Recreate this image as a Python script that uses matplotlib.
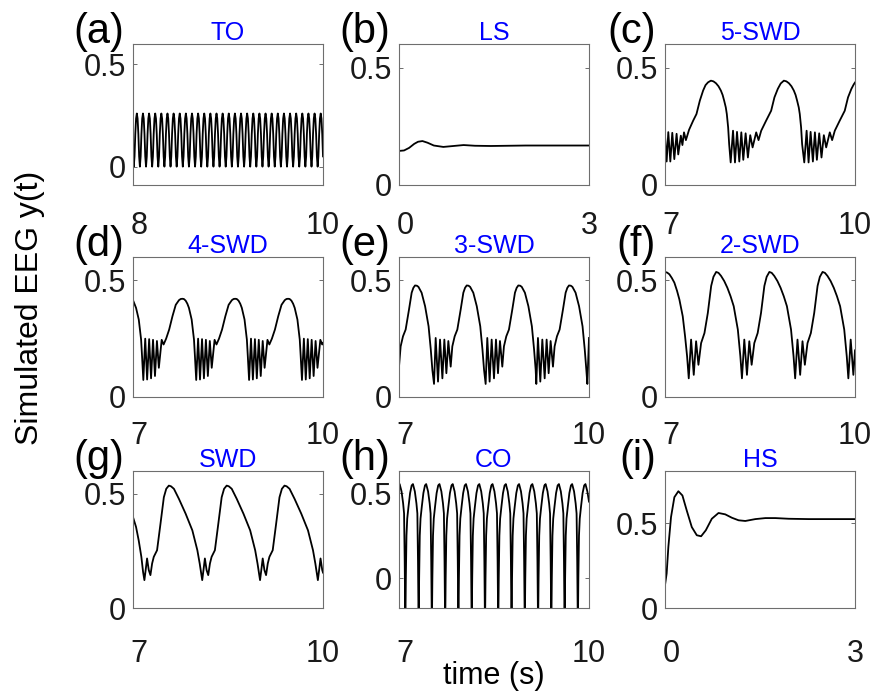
import numpy as np
import matplotlib
matplotlib.use("Agg")
import matplotlib.pyplot as plt
from matplotlib.transforms import ScaledTranslation

plt.rcParams['font.family'] = ['Liberation Sans', 'DejaVu Sans']

W, H = 877, 696

# ---------------- data ----------------
# (a) TO : uniformly sampled from t=8 to t=10
a_t_range = (8.0, 10.0)
a_vals = [0.12,
    0.0, 0.05, 0.16, 0.235, 0.26, 0.235, 0.16, 0.05,
    0.0, 0.05, 0.16, 0.235, 0.26, 0.235, 0.16, 0.05,
    0.0, 0.05, 0.16, 0.235, 0.26, 0.235, 0.16, 0.05,
    0.0, 0.05, 0.16, 0.235, 0.26, 0.235, 0.16, 0.05,
    0.0, 0.05, 0.16, 0.235, 0.26, 0.235, 0.16, 0.05,
    0.0, 0.05, 0.16, 0.235, 0.26, 0.235, 0.16, 0.05,
    0.0, 0.05, 0.16, 0.235, 0.26, 0.235, 0.16, 0.05,
    0.0, 0.05, 0.16, 0.235, 0.26, 0.235, 0.16, 0.05,
    0.0, 0.05, 0.16, 0.235, 0.26, 0.235, 0.16, 0.05,
    0.0, 0.05, 0.16, 0.235, 0.26, 0.235, 0.16, 0.05,
    0.0, 0.05, 0.16, 0.235, 0.26, 0.235, 0.16, 0.05,
    0.0, 0.05, 0.16, 0.235, 0.26, 0.235, 0.16, 0.05,
    0.0, 0.05, 0.16, 0.235, 0.26, 0.235, 0.16, 0.05,
    0.0, 0.05, 0.16, 0.235, 0.26, 0.235, 0.16, 0.05,
    0.0, 0.05, 0.16, 0.235, 0.26, 0.235, 0.16, 0.05,
    0.0, 0.05, 0.16, 0.235, 0.26, 0.235, 0.16, 0.05,
    0.0, 0.05, 0.16, 0.235, 0.26, 0.235, 0.16, 0.05,
    0.0, 0.05, 0.16, 0.235, 0.26, 0.235, 0.16, 0.05,
    0.0, 0.05, 0.16, 0.235, 0.26, 0.235, 0.16, 0.05,
    0.0, 0.05, 0.16, 0.235, 0.26, 0.235, 0.16, 0.05,
    0.0, 0.05, 0.16, 0.235, 0.26, 0.235, 0.16, 0.05,
    0.0, 0.05, 0.16, 0.235, 0.26, 0.235, 0.16, 0.05,
    0.0, 0.05, 0.16, 0.235, 0.26, 0.235, 0.16, 0.05,
    0.0, 0.05, 0.16, 0.235, 0.26, 0.235, 0.16, 0.05,
    0.0, 0.05, 0.16, 0.235, 0.26, 0.235, 0.16, 0.05,
    0.0, 0.05, 0.16, 0.235, 0.26, 0.235, 0.16, 0.05,
    0.0, 0.05, 0.16, 0.235, 0.26, 0.235, 0.16, 0.05,
    0.0, 0.05, 0.16, 0.235, 0.26, 0.235, 0.16, 0.05,
    0.0, 0.05, 0.16, 0.235, 0.26, 0.235, 0.16, 0.05,
    0.0, 0.05, 0.16, 0.235, 0.26, 0.235, 0.16, 0.05,
    0.0, 0.05, 0.16, 0.235, 0.26, 0.235, 0.16, 0.05]

# (b) LS
b_t = [0, 0.08, 0.16, 0.24, 0.30, 0.37, 0.45, 0.55, 0.70, 0.86, 1.02, 1.20, 1.45, 2.0, 3.0]
b_y = [0.145, 0.147, 0.158, 0.175, 0.184, 0.187, 0.180, 0.168, 0.162, 0.166, 0.170, 0.167, 0.166, 0.168, 0.168]

# (c) 5-SWD
c_t = [7.000, 7.026, 7.052, 7.084, 7.115, 7.147, 7.183, 7.209, 7.250, 7.275, 7.300, 7.330,
       7.380, 7.445, 7.497, 7.550, 7.602, 7.640, 7.680, 7.725, 7.765, 7.805, 7.845, 7.882, 7.910,
       7.934, 7.960, 7.976, 7.997, 8.013,
       8.037, 8.074, 8.105, 8.137, 8.173, 8.205, 8.236, 8.273, 8.309, 8.346, 8.383, 8.440, 8.477,
       8.519, 8.597, 8.676, 8.728, 8.781, 8.827, 8.877, 8.917, 8.957, 8.997, 9.034, 9.062, 9.086,
       9.112, 9.128, 9.149, 9.165,
       9.199, 9.236, 9.267, 9.299, 9.335, 9.367, 9.398, 9.435, 9.471, 9.508, 9.545, 9.602, 9.639,
       9.681, 9.759, 9.838, 9.890, 9.943, 9.980, 10.0]
c_y = [0.210, 0.100, 0.225, 0.100, 0.222, 0.110, 0.218, 0.130, 0.210, 0.170, 0.224, 0.191,
       0.235, 0.274, 0.302, 0.359, 0.402, 0.425, 0.437, 0.444, 0.441, 0.433, 0.420, 0.402, 0.383,
       0.359, 0.330, 0.302, 0.245, 0.174,
       0.096, 0.231, 0.096, 0.226, 0.100, 0.224, 0.107, 0.220, 0.117, 0.212, 0.160, 0.224, 0.191,
       0.231, 0.274, 0.316, 0.373, 0.409, 0.432, 0.444, 0.441, 0.433, 0.420, 0.402, 0.383, 0.359,
       0.330, 0.302, 0.245, 0.174,
       0.096, 0.231, 0.096, 0.226, 0.100, 0.224, 0.107, 0.220, 0.117, 0.212, 0.160, 0.224, 0.191,
       0.231, 0.274, 0.316, 0.373, 0.409, 0.428, 0.436]

# (d) 4-SWD
d_t = [7.000, 7.048, 7.091, 7.128, 7.143,
       7.163, 7.193, 7.223, 7.255, 7.285, 7.316, 7.347, 7.378, 7.408, 7.453, 7.483, 7.523, 7.571,
       7.623, 7.675, 7.726, 7.753, 7.778, 7.803, 7.831, 7.858, 7.883, 7.926, 7.963, 7.978,
       7.998, 8.028, 8.058, 8.090, 8.120, 8.151, 8.182, 8.213, 8.243, 8.288, 8.318, 8.358, 8.406,
       8.458, 8.510, 8.561, 8.588, 8.613, 8.638, 8.666, 8.693, 8.718, 8.761, 8.798, 8.813,
       8.833, 8.863, 8.893, 8.925, 8.955, 8.986, 9.017, 9.048, 9.078, 9.123, 9.153, 9.193, 9.241,
       9.293, 9.345, 9.396, 9.423, 9.448, 9.473, 9.501, 9.528, 9.553, 9.596, 9.633, 9.648,
       9.668, 9.698, 9.728, 9.760, 9.790, 9.821, 9.852, 9.883, 9.913, 9.958, 9.988, 10.0]
d_y = [0.415, 0.382, 0.332, 0.246, 0.174,
       0.073, 0.250, 0.075, 0.248, 0.080, 0.245, 0.090, 0.240, 0.125, 0.245, 0.225, 0.250, 0.289,
       0.346, 0.395, 0.415, 0.420, 0.421, 0.420, 0.413, 0.400, 0.382, 0.332, 0.246, 0.174,
       0.073, 0.250, 0.075, 0.248, 0.080, 0.245, 0.090, 0.240, 0.125, 0.245, 0.225, 0.250, 0.289,
       0.346, 0.395, 0.415, 0.420, 0.421, 0.420, 0.413, 0.400, 0.382, 0.332, 0.246, 0.174,
       0.073, 0.250, 0.075, 0.248, 0.080, 0.245, 0.090, 0.240, 0.125, 0.245, 0.225, 0.250, 0.289,
       0.346, 0.395, 0.415, 0.420, 0.421, 0.420, 0.413, 0.400, 0.382, 0.332, 0.246, 0.174,
       0.073, 0.250, 0.075, 0.248, 0.080, 0.245, 0.090, 0.240, 0.125, 0.245, 0.225, 0.232]

# (e) 3-SWD
e_t = [7.000, 7.026, 7.063, 7.105, 7.158, 7.200, 7.227, 7.253, 7.282, 7.307, 7.357, 7.412,
       7.467, 7.502, 7.527,
       7.553, 7.579, 7.616, 7.648, 7.685, 7.716, 7.748, 7.779, 7.816, 7.842, 7.879, 7.921, 7.974,
       8.016, 8.043, 8.069, 8.098, 8.123, 8.173, 8.228, 8.283, 8.318, 8.343,
       8.368, 8.394, 8.431, 8.463, 8.500, 8.531, 8.563, 8.594, 8.631, 8.657, 8.694, 8.736, 8.789,
       8.831, 8.858, 8.884, 8.913, 8.938, 8.988, 9.043, 9.098, 9.133, 9.158,
       9.168, 9.194, 9.231, 9.263, 9.300, 9.331, 9.363, 9.394, 9.431, 9.457, 9.494, 9.536, 9.589,
       9.631, 9.658, 9.684, 9.713, 9.738, 9.788, 9.843, 9.898, 9.933, 9.958,
       9.974, 10.0]
e_y = [0.130, 0.217, 0.260, 0.289, 0.375, 0.447, 0.468, 0.478, 0.477, 0.472, 0.447, 0.389,
       0.303, 0.203, 0.116,
       0.056, 0.253, 0.066, 0.246, 0.080, 0.246, 0.102, 0.240, 0.130, 0.217, 0.260, 0.289, 0.375,
       0.447, 0.468, 0.478, 0.477, 0.472, 0.447, 0.389, 0.303, 0.203, 0.116,
       0.056, 0.253, 0.066, 0.246, 0.080, 0.246, 0.102, 0.240, 0.130, 0.217, 0.260, 0.289, 0.375,
       0.447, 0.468, 0.478, 0.477, 0.472, 0.447, 0.389, 0.303, 0.203, 0.116,
       0.056, 0.253, 0.066, 0.246, 0.080, 0.246, 0.102, 0.240, 0.130, 0.217, 0.260, 0.289, 0.375,
       0.447, 0.468, 0.478, 0.477, 0.472, 0.447, 0.389, 0.303, 0.203, 0.116,
       0.056, 0.253]

# (f) 2-SWD
f_t = [7.000, 7.035, 7.069, 7.108, 7.148, 7.190, 7.227, 7.255, 7.280, 7.317, 7.349,
       7.375, 7.412, 7.454, 7.491, 7.528, 7.570, 7.623, 7.676, 7.729, 7.765, 7.808, 7.845, 7.885,
       7.935, 7.985, 8.035, 8.085, 8.150, 8.190,
       8.215, 8.252, 8.294, 8.331, 8.368, 8.410, 8.463, 8.516, 8.569, 8.605, 8.648, 8.685, 8.725,
       8.775, 8.825, 8.875, 8.925, 8.990, 9.030,
       9.055, 9.092, 9.134, 9.171, 9.208, 9.250, 9.303, 9.356, 9.409, 9.445, 9.488, 9.525, 9.565,
       9.615, 9.665, 9.715, 9.765, 9.830, 9.870,
       9.895, 9.932, 9.974, 10.0]
f_y = [0.536, 0.533, 0.526, 0.510, 0.490, 0.455, 0.418, 0.380, 0.346, 0.260, 0.174,
       0.080, 0.246, 0.095, 0.239, 0.138, 0.231, 0.274, 0.360, 0.476, 0.515, 0.536, 0.532, 0.519,
       0.497, 0.468, 0.432, 0.389, 0.289, 0.174,
       0.080, 0.246, 0.095, 0.239, 0.138, 0.231, 0.274, 0.360, 0.476, 0.515, 0.536, 0.532, 0.519,
       0.497, 0.468, 0.432, 0.389, 0.289, 0.174,
       0.080, 0.246, 0.095, 0.239, 0.138, 0.231, 0.274, 0.360, 0.476, 0.515, 0.536, 0.532, 0.519,
       0.497, 0.468, 0.432, 0.389, 0.289, 0.174,
       0.080, 0.246, 0.095, 0.200]

# (g) SWD
g_t = [7.000, 7.048, 7.090, 7.132, 7.159,
       7.180, 7.206, 7.222, 7.249, 7.275, 7.302, 7.328, 7.380, 7.434, 7.487, 7.525, 7.566, 7.600,
       7.646, 7.725, 7.831, 7.937, 8.016, 8.053,
       8.093, 8.119, 8.135, 8.162, 8.188, 8.215, 8.241, 8.293, 8.347, 8.400, 8.438, 8.479, 8.513,
       8.559, 8.638, 8.744, 8.850, 8.929, 8.966,
       9.006, 9.032, 9.048, 9.075, 9.101, 9.128, 9.154, 9.206, 9.260, 9.313, 9.351, 9.392, 9.426,
       9.472, 9.551, 9.657, 9.763, 9.842, 9.879,
       9.919, 9.945, 9.961, 9.988, 10.0]
g_y = [0.398, 0.355, 0.296, 0.224, 0.158,
       0.122, 0.180, 0.217, 0.166, 0.144, 0.195, 0.224, 0.253, 0.369, 0.485, 0.522, 0.536, 0.533,
       0.522, 0.478, 0.413, 0.340, 0.253, 0.195,
       0.122, 0.180, 0.217, 0.166, 0.144, 0.195, 0.224, 0.253, 0.369, 0.485, 0.522, 0.536, 0.533,
       0.522, 0.478, 0.413, 0.340, 0.253, 0.195,
       0.122, 0.180, 0.217, 0.166, 0.144, 0.195, 0.224, 0.253, 0.369, 0.485, 0.522, 0.536, 0.533,
       0.522, 0.478, 0.413, 0.340, 0.253, 0.195,
       0.122, 0.180, 0.217, 0.166, 0.155]

# (h) CO
h_t = [7.000, 7.010, 7.040, 7.065, 7.080, 7.090, 7.100, 7.108, 7.118, 7.130, 7.150, 7.175, 7.200,
       7.220, 7.250, 7.275, 7.290, 7.300, 7.310, 7.318, 7.328, 7.340, 7.360, 7.385, 7.410,
       7.429, 7.459, 7.484, 7.499, 7.509, 7.519, 7.527, 7.537, 7.549, 7.569, 7.594, 7.619,
       7.639, 7.669, 7.694, 7.709, 7.719, 7.729, 7.737, 7.747, 7.759, 7.779, 7.804, 7.829,
       7.848, 7.878, 7.903, 7.918, 7.928, 7.938, 7.946, 7.956, 7.968, 7.988, 8.013, 8.038,
       8.058, 8.088, 8.113, 8.128, 8.138, 8.148, 8.156, 8.166, 8.178, 8.198, 8.223, 8.248,
       8.268, 8.298, 8.323, 8.338, 8.348, 8.358, 8.366, 8.376, 8.388, 8.408, 8.433, 8.458,
       8.477, 8.507, 8.532, 8.547, 8.557, 8.567, 8.575, 8.585, 8.597, 8.617, 8.642, 8.667,
       8.687, 8.717, 8.742, 8.757, 8.767, 8.777, 8.785, 8.795, 8.807, 8.827, 8.852, 8.877,
       8.896, 8.926, 8.951, 8.966, 8.976, 8.986, 8.994, 9.004, 9.016, 9.036, 9.061, 9.086,
       9.106, 9.136, 9.161, 9.176, 9.186, 9.196, 9.204, 9.214, 9.226, 9.246, 9.271, 9.296,
       9.315, 9.345, 9.370, 9.385, 9.395, 9.405, 9.413, 9.423, 9.435, 9.455, 9.480, 9.505,
       9.525, 9.555, 9.580, 9.595, 9.605, 9.615, 9.623, 9.633, 9.645, 9.665, 9.690, 9.715,
       9.734, 9.764, 9.789, 9.804, 9.814, 9.824, 9.832, 9.842, 9.854, 9.874, 9.899, 9.924,
       9.944, 9.974, 10.0]
h_y = [0.550, 0.553, 0.510, 0.440, 0.380, 0.100, -0.300, 0.000, 0.250, 0.350, 0.420, 0.500, 0.545,
       0.553, 0.510, 0.440, 0.380, 0.100, -0.300, 0.000, 0.250, 0.350, 0.420, 0.500, 0.545,
       0.553, 0.510, 0.440, 0.380, 0.100, -0.300, 0.000, 0.250, 0.350, 0.420, 0.500, 0.545,
       0.553, 0.510, 0.440, 0.380, 0.100, -0.300, 0.000, 0.250, 0.350, 0.420, 0.500, 0.545,
       0.553, 0.510, 0.440, 0.380, 0.100, -0.300, 0.000, 0.250, 0.350, 0.420, 0.500, 0.545,
       0.553, 0.510, 0.440, 0.380, 0.100, -0.300, 0.000, 0.250, 0.350, 0.420, 0.500, 0.545,
       0.553, 0.510, 0.440, 0.380, 0.100, -0.300, 0.000, 0.250, 0.350, 0.420, 0.500, 0.545,
       0.553, 0.510, 0.440, 0.380, 0.100, -0.300, 0.000, 0.250, 0.350, 0.420, 0.500, 0.545,
       0.553, 0.510, 0.440, 0.380, 0.100, -0.300, 0.000, 0.250, 0.350, 0.420, 0.500, 0.545,
       0.553, 0.510, 0.440, 0.380, 0.100, -0.300, 0.000, 0.250, 0.350, 0.420, 0.500, 0.545,
       0.553, 0.510, 0.440, 0.380, 0.100, -0.300, 0.000, 0.250, 0.350, 0.420, 0.500, 0.545,
       0.553, 0.510, 0.440, 0.380, 0.100, -0.300, 0.000, 0.250, 0.350, 0.420, 0.500, 0.545,
       0.553, 0.510, 0.440, 0.380, 0.100, -0.300, 0.000, 0.250, 0.350, 0.420, 0.500, 0.545,
       0.553, 0.510, 0.440, 0.380, 0.100, -0.300, 0.000, 0.250, 0.350, 0.420, 0.500, 0.545,
       0.553, 0.510, 0.450]

# (i) HS
i_t = [0, 0.026, 0.053, 0.095, 0.148, 0.211, 0.275, 0.343, 0.423, 0.502, 0.570, 0.644, 0.739,
       0.845, 0.951, 1.056, 1.162, 1.268, 1.426, 1.585, 1.743, 1.954, 2.271, 3.0]
i_y = [0.135, 0.203, 0.359, 0.535, 0.652, 0.687, 0.662, 0.574, 0.476, 0.428, 0.422, 0.457, 0.525,
       0.559, 0.551, 0.531, 0.516, 0.512, 0.523, 0.529, 0.529, 0.525, 0.523, 0.523]

letters = ['(a)', '(b)', '(c)', '(d)', '(e)', '(f)', '(g)', '(h)', '(i)']
titles = ['TO', 'LS', '5-SWD', '4-SWD', '3-SWD', '2-SWD', 'SWD', 'CO', 'HS']
xlims = [(8, 10), (0, 3), (7, 10), (7, 10), (7, 10), (7, 10), (7, 10), (7, 10), (0, 3)]
ylims = [(-0.09, 0.6), (0, 0.6), (0, 0.6), (0, 0.6), (0, 0.6), (0, 0.6), (0, 0.6), (-0.176, 0.63), (0, 0.806)]

a_t = np.linspace(a_t_range[0], a_t_range[1], len(a_vals))
series = [(a_t, a_vals), (b_t, b_y), (c_t, c_y), (d_t, d_y), (e_t, e_y),
          (f_t, f_y), (g_t, g_y), (h_t, h_y), (i_t, i_y)]

# ---------------- layout ----------------
fig = plt.figure(figsize=(W / 100, H / 100), dpi=100)
col_left = [133, 399, 665]
col_w = 190
row_top = [44, 257, 471]
row_bot = [185, 397, 608]
xpads = [19, 17.5, 22]

tick_fs = 22
for k in range(9):
    r, c = divmod(k, 3)
    l = col_left[c] / W
    b = 1 - row_bot[r] / H
    h = (row_bot[r] - row_top[r]) / H
    ax = fig.add_axes([l, b, col_w / W, h])
    t, y = series[k]
    ax.plot(t, y, color='black', lw=1.3, solid_joinstyle='round')
    ax.set_xlim(*xlims[k])
    ax.set_ylim(*ylims[k])
    ax.set_xticks(list(xlims[k]))
    ax.set_xticklabels([str(v) for v in xlims[k]])
    ax.set_yticks([0, 0.5])
    ax.set_yticklabels(['0', '0.5'])
    ax.tick_params(direction='in', length=3, width=0.6, top=True, right=True,
                   labelsize=tick_fs, colors='#555555', labelcolor='#1a1a1a')
    ax.tick_params(axis='x', pad=xpads[r])
    ax.tick_params(axis='y', pad=5)
    first = ax.get_xticklabels()[0]
    first.set_transform(first.get_transform() + ScaledTranslation(0.06, 0, fig.dpi_scale_trans))
    for s in ax.spines.values():
        s.set_color('#6e6e6e')
        s.set_linewidth(0.8)
    ax.set_title(titles[k], color='#0000ff', fontsize=18, pad=3)
    fig.text((col_left[c] - 9) / W, 1 - (row_top[r] - 12) / H, letters[k],
             ha='right', va='center', fontsize=30, color='black')

fig.text(494 / W, 1 - 676 / H, 'time (s)', ha='center', va='center', fontsize=22)
fig.text(30 / W, 1 - 308 / H, 'Simulated EEG y(t)', ha='center', va='center',
         rotation=90, fontsize=23)

fig.savefig('out.png', dpi=100)
